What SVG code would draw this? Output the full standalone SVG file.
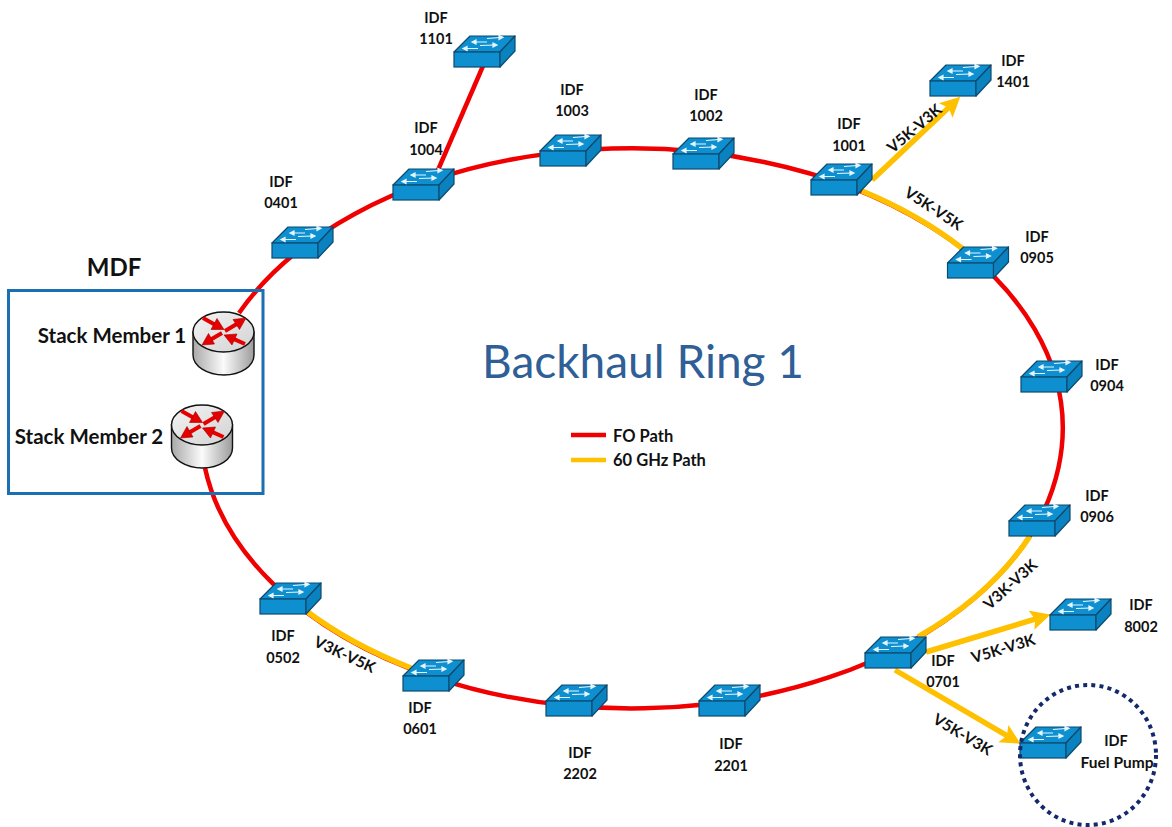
<svg xmlns="http://www.w3.org/2000/svg" width="1172" height="827" viewBox="0 0 1172 827">
<style>
text{font-family:"Lato","Open Sans",sans-serif;fill:#111;font-weight:700;text-anchor:middle;dominant-baseline:central}
.l{font-size:14.500px}
.f{font-size:15.500px}
.e{font-size:16.500px}
.s{font-size:20.500px}
.r{fill:none;stroke:#f00000;stroke-width:4.500}
.y{fill:none;stroke:#ffc000;stroke-width:5.500}
.a{fill:none;stroke:#ffc000;stroke-width:5.500;marker-end:url(#ah)}
.rl{stroke:#e60000;stroke-width:4;fill:none}
.rh{fill:#e60000;stroke:#a00000;stroke-width:.6}
</style>
<defs>
<marker id="ah" markerUnits="userSpaceOnUse" markerWidth="22" markerHeight="22" refX="10" refY="10" orient="auto"><path d="M0 0L20 10L0 20L4 10Z" fill="#ffc000"/></marker>
<linearGradient id="cyl" x1="0" x2="1" y1="0" y2="0"><stop offset="0" stop-color="#a8a8a8"/><stop offset=".5" stop-color="#fbfbfb"/><stop offset="1" stop-color="#9c9c9c"/></linearGradient>
<linearGradient id="top" x1="0" x2="1" y1="0" y2="1"><stop offset="0" stop-color="#f4f4f4"/><stop offset="1" stop-color="#d2d2d2"/></linearGradient>
<g id="sw">
<path d="M0 0L16-16H61L46 0Z" fill="#0e8fd0" stroke="#0c4a6e" stroke-width="1.200" stroke-linejoin="round"/>
<rect x="0" y="0" width="46" height="15" fill="#0e8fd0" stroke="#0c4a6e" stroke-width="1.200"/>
<path d="M46 0L61-16V-1L46 15Z" fill="#0b82c0" stroke="#0c4a6e" stroke-width="1.200" stroke-linejoin="round"/>
<g stroke="#e6f6ff" stroke-width="1.200" fill="#e6f6ff">
<path d="M33-13.500L46-14.500M49-14.700L45-16.500V-12.500Z"/>
<path d="M21-10H33M18-10L22-12V-8Z"/>
<path d="M26-6.500L40-7M43-7L39-9V-5Z"/>
<path d="M12-3.500H24M9-3.500L13-5.500V-1.500Z"/>
</g>
</g>
<g id="rt">
<path d="M0 20V43C0 54 14 63 31 63S61 54 61 43V20Z" fill="url(#cyl)" stroke="#111" stroke-width="1.400"/>
<ellipse cx="30.500" cy="20" rx="30.500" ry="20" fill="url(#top)" stroke="#111" stroke-width="1.400"/>
<path class="rl" d="M32 19L45 11.200M29 21L17 28M10 6L23 13.200M52 32L40 26.600"/>
<path class="rh" d="M53 6L46.500 17.500L40 7.500ZM9 33L21.500 32L15.500 21.500ZM31 17.500L18 17.500L24 6.500ZM31 23L44 22L39 33Z"/>
</g>
</defs>
<rect width="1172" height="827" fill="#fff"/>
<g id="connectors">
<path class="r" d="M205 468A431 280 0 1 0 239 313"/>
<path class="r" d="M483 66L438 170"/>
<path class="y" d="M305 610A431 280 0 0 0 411 668"/>
<path class="y" d="M862 191A431 280 0 0 1 963 249"/>
<path class="y" d="M918 637A431 280 0 0 0 1030 536"/>
<path class="a" d="M872 180L953 103.600"/>
<path class="a" d="M926 652L1041 617.400"/>
<path class="a" d="M895 670L1012 738.700"/>
<path d="M571 435H606" stroke="#f00000" stroke-width="4.500"/>
<path d="M571 460H606" stroke="#ffc000" stroke-width="4.500"/>
</g>
<g id="mdf">
<rect x="8.500" y="290.500" width="254.500" height="203" fill="none" stroke="#1b6fb3" stroke-width="3"/>
<text x="114" y="266" font-size="24">MDF</text>
</g>
<g id="stack1"><use href="#rt" x="193" y="312"/><text class="s" x="112" y="335">Stack Member 1</text></g>
<g id="stack2"><use href="#rt" x="171.500" y="405"/><text class="s" x="89" y="436">Stack Member 2</text></g>
<g id="idf1101"><use href="#sw" x="454" y="52"/><text class="l" x="436" y="17">IDF</text><text class="l" x="436" y="38">1101</text></g>
<g id="idf1004"><use href="#sw" x="393" y="185"/><text class="l" x="426" y="127">IDF</text><text class="l" x="426" y="149">1004</text></g>
<g id="idf1003"><use href="#sw" x="540" y="151"/><text class="l" x="572" y="89">IDF</text><text class="l" x="572" y="110">1003</text></g>
<g id="idf1002"><use href="#sw" x="673" y="154"/><text class="l" x="706" y="94">IDF</text><text class="l" x="706" y="115">1002</text></g>
<g id="idf1001"><use href="#sw" x="811" y="180"/><text class="l" x="849" y="123">IDF</text><text class="l" x="849" y="145">1001</text></g>
<g id="idf1401"><use href="#sw" x="930" y="81"/><text class="l" x="1013" y="60">IDF</text><text class="l" x="1013" y="81">1401</text></g>
<g id="idf0905"><use href="#sw" x="947.500" y="263"/><text class="l" x="1037" y="236">IDF</text><text class="l" x="1037" y="257">0905</text></g>
<g id="idf0904"><use href="#sw" x="1021" y="377"/><text class="l" x="1107" y="364">IDF</text><text class="l" x="1107" y="385">0904</text></g>
<g id="idf0906"><use href="#sw" x="1009" y="521"/><text class="l" x="1097" y="495">IDF</text><text class="l" x="1097" y="516">0906</text></g>
<g id="idf8002"><use href="#sw" x="1050" y="615"/><text class="l" x="1141" y="604">IDF</text><text class="l" x="1141" y="626">8002</text></g>
<g id="idf0701"><use href="#sw" x="865" y="653"/><text class="l" x="943" y="660">IDF</text><text class="l" x="943" y="681">0701</text></g>
<g id="idfFuel"><use href="#sw" x="1020" y="743"/><text class="l" x="1116" y="740">IDF</text><text class="f" x="1117" y="762">Fuel Pump</text>
<ellipse cx="1088" cy="755" rx="68" ry="70" fill="none" stroke="#14296b" stroke-width="4" stroke-dasharray="4 4.200"/></g>
<g id="idf2201"><use href="#sw" x="699" y="701"/><text class="l" x="731" y="743">IDF</text><text class="l" x="731" y="765">2201</text></g>
<g id="idf2202"><use href="#sw" x="546" y="701"/><text class="l" x="580" y="752">IDF</text><text class="l" x="580" y="773">2202</text></g>
<g id="idf0601"><use href="#sw" x="403" y="676"/><text class="l" x="420" y="707">IDF</text><text class="l" x="420" y="728">0601</text></g>
<g id="idf0502"><use href="#sw" x="260" y="599"/><text class="l" x="283" y="635">IDF</text><text class="l" x="283" y="657">0502</text></g>
<g id="idf0401"><use href="#sw" x="272" y="243"/><text class="l" x="281" y="181">IDF</text><text class="l" x="281" y="202">0401</text></g>
<g id="labels">
<text class="f" transform="translate(914 128) rotate(-40)">V5K-V3K</text>
<text class="f" transform="translate(934 208) rotate(33)">V5K-V5K</text>
<text class="f" transform="translate(1010 584) rotate(-42)">V3K-V3K</text>
<text class="f" transform="translate(1003 648) rotate(-17)">V5K-V3K</text>
<text class="f" transform="translate(963 734) rotate(31)">V5K-V3K</text>
<text class="f" transform="translate(345 654) rotate(25)">V3K-V5K</text>
<text x="643" y="360" font-size="46" style="font-weight:400;fill:#2f5f96">Backhaul Ring 1</text>
<text class="e" x="613" y="436" style="text-anchor:start">FO Path</text>
<text class="e" x="613" y="460" style="text-anchor:start">60 GHz Path</text>
</g>
</svg>
